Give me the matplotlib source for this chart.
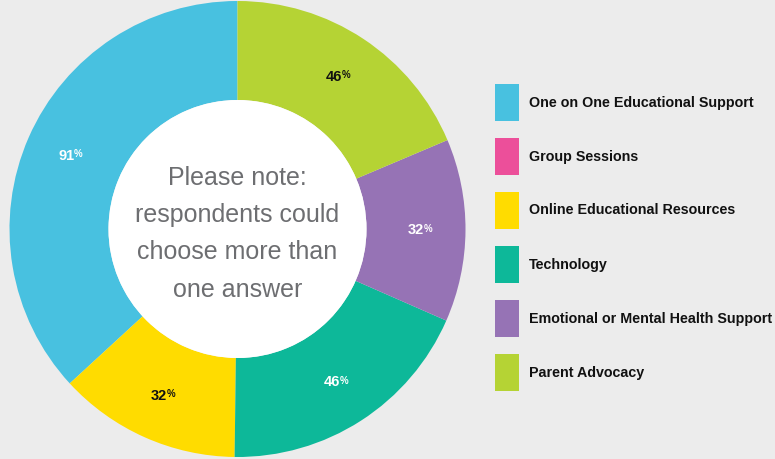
import matplotlib

matplotlib.use("Agg", force=True)
import matplotlib.pyplot as plt
import matplotlib.transforms as mtransforms
import numpy as np
from matplotlib.patches import Circle, Rectangle

categories = [
    "One on One Educational Support",
    "Group Sessions",
    "Online Educational Resources",
    "Technology",
    "Emotional or Mental Health Support",
    "Parent Advocacy",
]
percentages = [91, 0, 32, 46, 32, 46]
colors = ["#48c1e0", "#ec4f9a", "#ffdc00", "#0db899", "#9673b5", "#b5d334"]
label_colors = ["white", "white", "#111111", "white", "white", "#111111"]
center_note = "Please note:\nrespondents could\nchoose more than\none answer"

BG = "#ececec"
W, H = 775, 459

fig = plt.figure(figsize=(W / 100, H / 100), dpi=100, facecolor=BG)

# Donut: centre (237.5, 229) px, outer radius 228 px, hole 129 px
cx, cy, r = 237.5, 229, 228
hole = 129 / 228
ax = fig.add_axes([(cx - r) / W, (H - cy - r) / H, 2 * r / W, 2 * r / H])
ax.set_facecolor("none")

shown = [i for i, v in enumerate(percentages) if v > 0]
wedges, _ = ax.pie(
    [percentages[i] for i in shown],
    colors=[colors[i] for i in shown],
    startangle=90,
    counterclock=True,
    radius=1.0,
    wedgeprops=dict(width=1.0 - hole, linewidth=0),
)
ax.add_patch(Circle((0, 0), hole, facecolor="white", edgecolor="none"))
ax.set_xlim(-1, 1)
ax.set_ylim(-1, 1)
ax.set_aspect("equal")
ax.axis("off")

# percent labels in the ring, small raised "%" sign
label_r = 0.80
for w, i in zip(wedges, shown):
    mid = np.deg2rad((w.theta1 + w.theta2) / 2)
    x, y = label_r * np.cos(mid), label_r * np.sin(mid)
    base = mtransforms.offset_copy(ax.transData, fig=fig, x=4, y=0, units="dots")
    ax.text(x, y, str(percentages[i]), transform=base, ha="right", va="center",
            fontsize=10.5, fontweight="bold", color=label_colors[i], family="Liberation Sans")
    pct = mtransforms.offset_copy(ax.transData, fig=fig, x=3.6, y=1.5, units="dots")
    ax.text(x, y, "%", transform=pct, ha="left", va="center",
            fontsize=7, fontweight="bold", color=label_colors[i], family="Liberation Sans")

ax.text(0, -0.02, center_note, ha="center", va="center", fontsize=18,
        color="#6d6e71", linespacing=1.7, family="Liberation Sans")

# legend drawn by hand
for k, (name, col) in enumerate(zip(categories, colors)):
    top = 84 + k * 54
    fig.patches.append(Rectangle((495 / W, 1 - (top + 37) / H), 24 / W, 37 / H,
                                 transform=fig.transFigure, facecolor=col, edgecolor="none"))
    fig.text(529 / W, 1 - (top + 18.5) / H, name, ha="left", va="center",
             fontsize=10.3, fontweight="bold", color="#111111", family="Liberation Sans")

fig.savefig("out.png", dpi=100, facecolor=BG)
